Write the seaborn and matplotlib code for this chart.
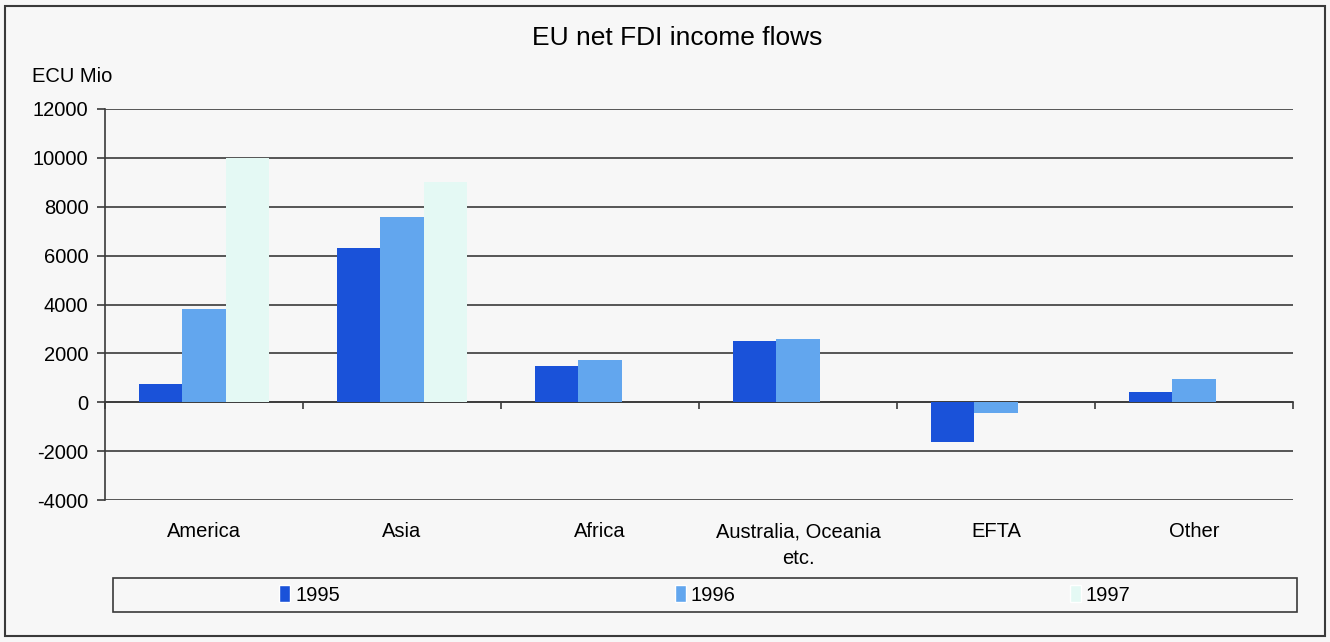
import numpy as np
import pandas as pd
import seaborn as sns
import matplotlib.pyplot as plt
from matplotlib.patches import Rectangle

sns.set_theme(style="white")
plt.rcParams["font.family"] = ["Liberation Sans", "DejaVu Sans"]
plt.rcParams["text.color"] = "black"
plt.rcParams["xtick.color"] = "black"
plt.rcParams["ytick.color"] = "black"
plt.rcParams["axes.unicode_minus"] = False

# ---------------------------------------------------------------------------
# Data (ECU Mio)
# ---------------------------------------------------------------------------
regions = ["America", "Asia", "Africa", "Australia, Oceania\netc.", "EFTA", "Other"]
years = ["1995", "1996", "1997"]
flows_1995 = [750, 6300, 1480, 2500, -1620, 420]
flows_1996 = [3800, 7600, 1730, 2580, -450, 950]
flows_1997 = [10000, 9000, 0, 0, 0, 0]

df = pd.DataFrame({
    "region": regions * 3,
    "year": np.repeat(years, len(regions)),
    "value": flows_1995 + flows_1996 + flows_1997,
})

colors = {"1995": "#1a52d9", "1996": "#62a6ee", "1997": "#e4f9f4"}
BG = "#f7f7f7"
LINE = "#3a3a3a"

fig = plt.figure(figsize=(13.3, 6.42), dpi=100, facecolor=BG)
ax = fig.add_axes([105 / 1330, 142 / 642, 1188 / 1330, 391 / 642])
ax.set_facecolor(BG)

sns.barplot(data=df, x="region", y="value", hue="year", palette=colors,
            width=0.66, ax=ax, legend=False, saturation=1, linewidth=0,
            zorder=3)

ax.set_ylim(-4000, 12000)
ax.set_xlim(-0.5, len(regions) - 0.5)
ax.set_yticks(np.arange(-4000, 12001, 2000))
ax.yaxis.grid(True, color=LINE, linewidth=1.2, zorder=0)
ax.set_axisbelow(True)
for side in ["top", "right", "bottom"]:
    ax.spines[side].set_visible(False)
ax.spines["left"].set_color(LINE)
ax.spines["left"].set_linewidth(1.2)
ax.set_xlabel("")
ax.set_ylabel("")
ax.tick_params(axis="y", length=6, width=1.2, color=LINE, labelsize=14.5, pad=6,
               left=True)
ax.tick_params(axis="x", length=0, labelsize=14.5, pad=16)
for lbl in ax.get_xticklabels():
    lbl.set_linespacing(1.55)

# zero line with tick marks at category boundaries
zero_ax = ax.secondary_xaxis(0.25)
zero_ax.set_xticks(np.arange(-0.5, len(regions), 1.0))
zero_ax.tick_params(length=5, width=1.2, color=LINE, labelbottom=False, bottom=True)
zero_ax.spines["bottom"].set_color(LINE)
zero_ax.spines["bottom"].set_linewidth(1.2)

fig.text(677 / 1330, 1 - 38 / 642, "EU net FDI income flows", ha="center",
         va="center", fontsize=19)
fig.text(32 / 1330, 1 - 76 / 642, "ECU Mio", ha="left", va="center", fontsize=14.5)

# legend box spanning the width
fig.patches.append(Rectangle((113 / 1330, 1 - 612 / 642), 1184 / 1330, 34 / 642,
                             transform=fig.transFigure, facecolor=BG,
                             edgecolor=LINE, linewidth=1.2))
handles = [Rectangle((0, 0), 1, 1, facecolor=colors[y]) for y in years]
fig.legend(handles, years, loc="center", ncol=3, frameon=False, fontsize=14.5,
           bbox_to_anchor=(705 / 1330, 1 - 595 / 642), handlelength=0.55,
           handleheight=0.9, handletextpad=0.25, columnspacing=16.6)

# outer frame
fig.patches.append(Rectangle((5 / 1330, 6 / 642), 1320 / 1330, 630 / 642,
                             transform=fig.transFigure, fill=False,
                             edgecolor=LINE, linewidth=1.5))

fig.savefig("out.png", dpi=100, facecolor=BG)
